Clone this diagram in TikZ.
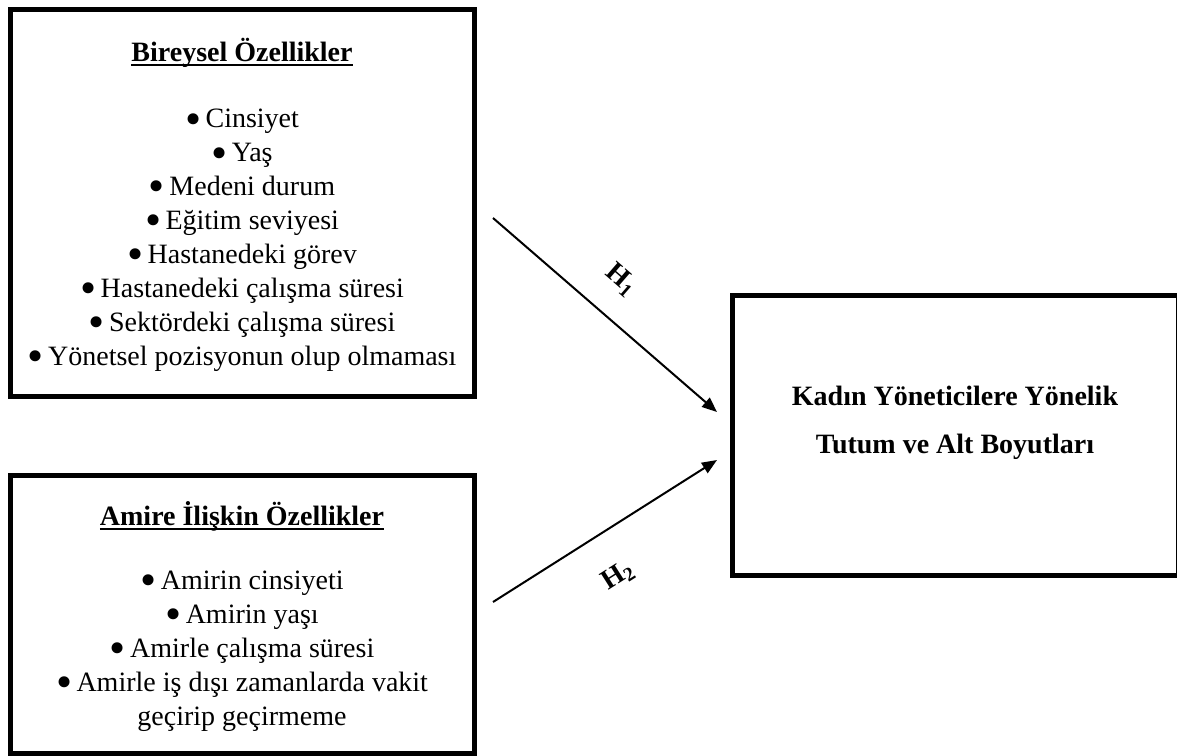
\documentclass[tikz,border=0pt]{standalone}
\usepackage{fontspec}
\setmainfont{Liberation Serif}
\usetikzlibrary{arrows.meta}

\newcommand{\altcizgi}[1]{\leavevmode\setbox0=\hbox{#1}\rlap{\rule[-2.7pt]{\wd0}{1.2pt}}\box0}
\newcommand{\madde}{\raisebox{-3.2pt}{\fontsize{23}{0}\selectfont\textbullet}\hspace{2.2pt}}

\begin{document}
\begin{tikzpicture}[x=0.5pt,y=-0.5pt]

    \tikzset{
      frame/.style={
        draw,
        line width=2.5pt,
        inner sep=0pt,
      },
      item/.style={
        anchor=base,
        align=center,
        inner sep=0pt,
        font=\fontsize{14}{16.95}\selectfont,
      },
      hyp/.style={
        -{Triangle[length=7.5pt,width=6pt]},
        line width=1pt,
      },
    }
    \useasboundingbox (0,0) rectangle (1177,755);

    % boxes
    \node[frame, minimum width=232pt, minimum height=193.5pt] (bireysel) at (242.5,203) {};
    \node[frame, minimum width=232pt, minimum height=138.75pt] (amir) at (242.5,614.25) {};
    \node[frame, minimum width=222.75pt, minimum height=140pt] (tutum) at (955.25,435.5) {};

    % texts (base = last line)
    \node[item] (bireyselbaslik) at (242,61) {\textbf{\altcizgi{Bireysel Özellikler}}};
    \node[item] (bireyselliste) at (242,365) {\madde Cinsiyet\\
      \madde Yaş\\
      \madde Medeni durum\\
      \madde Eğitim seviyesi\\
      \madde Hastanedeki görev\\
      \madde Hastanedeki çalışma süresi\\
      \madde Sektördeki çalışma süresi\\
      \madde Yönetsel pozisyonun olup olmaması};
    \node[item] (amirbaslik) at (242,525) {\textbf{\altcizgi{Amire İlişkin Özellikler}}};
    \node[item] (amirliste) at (242,725) {\madde Amirin cinsiyeti\\
      \madde Amirin yaşı\\
      \madde Amirle çalışma süresi\\
      \madde Amirle iş dışı zamanlarda vakit\\
      geçirip geçirmeme};
    \node[item, font=\fontsize{14}{24}\selectfont\bfseries] (tutumyazi) at (955,453) {Kadın Yöneticilere Yönelik\\
      Tutum ve Alt Boyutları};

    % hypotheses
    \coordinate (h1a) at (493,218);
    \coordinate (h1b) at (717,412);
    \coordinate (h2a) at (493,602);
    \coordinate (h2b) at (717,460);
    \draw[hyp] (h1a) -- (h1b);
    \draw[hyp] (h2a) -- (h2b);
    \node[item, anchor=center, rotate=-41] (h1) at (621,280) {\textbf{H\textsubscript{1}}};
    \node[item, anchor=center, rotate=32.4] (h2) at (618,576) {\textbf{H\textsubscript{2}}};

\end{tikzpicture}
\end{document}
